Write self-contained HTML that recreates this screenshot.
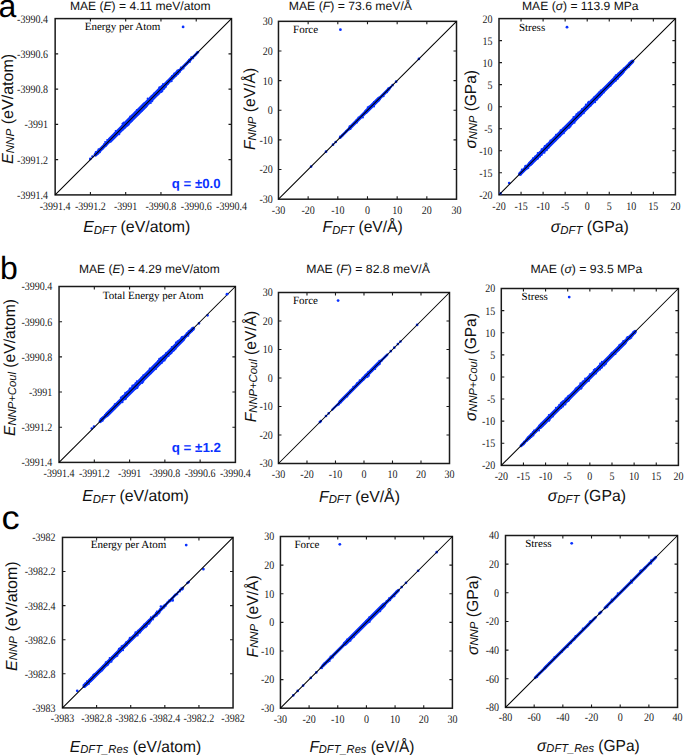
<!DOCTYPE html><html><head><meta charset="utf-8"><style>html,body{margin:0;padding:0;background:#fff;}svg{display:block;text-rendering:geometricPrecision;}</style></head><body>
<svg width="685" height="755" viewBox="0 0 685 755">
<rect width="685" height="755" fill="#fff"/>
<text x="-1.5" y="17.2" font-family='"Liberation Sans", sans-serif' font-size="32" fill="#000">a</text>
<text x="0" y="278.8" font-family='"Liberation Sans", sans-serif' font-size="32" fill="#000">b</text>
<text transform="translate(1.4 528.6) scale(1.1 1)" font-family='"Liberation Sans", sans-serif' font-size="33" fill="#000">c</text>
<text x="69.9" y="10.1" font-family='"Liberation Sans", sans-serif' font-size="12" fill="#111" textLength="140.7" lengthAdjust="spacingAndGlyphs">MAE (<tspan font-style="italic">E</tspan>) = 4.11 meV/atom</text>
<text x="288.8" y="10.1" font-family='"Liberation Sans", sans-serif' font-size="12" fill="#111" textLength="123.2" lengthAdjust="spacingAndGlyphs">MAE (<tspan font-style="italic">F</tspan>) = 73.6 meV/Å</text>
<text x="522" y="10.1" font-family='"Liberation Sans", sans-serif' font-size="12" fill="#111" textLength="116.6" lengthAdjust="spacingAndGlyphs">MAE (<tspan font-style="italic">σ</tspan>) = 113.9 MPa</text>
<text x="79" y="273.2" font-family='"Liberation Sans", sans-serif' font-size="12" fill="#111" textLength="140.8" lengthAdjust="spacingAndGlyphs">MAE (<tspan font-style="italic">E</tspan>) = 4.29 meV/atom</text>
<text x="306.2" y="273.4" font-family='"Liberation Sans", sans-serif' font-size="12" fill="#111" textLength="123.7" lengthAdjust="spacingAndGlyphs">MAE (<tspan font-style="italic">F</tspan>) = 82.8 meV/Å</text>
<text x="530.4" y="273.2" font-family='"Liberation Sans", sans-serif' font-size="12" fill="#111" textLength="111.9" lengthAdjust="spacingAndGlyphs">MAE (<tspan font-style="italic">σ</tspan>) = 93.5 MPa</text>
<path d="M90.42 194.9v-3.0M90.42 18.6v3.0M55.15 159.64h3.0M231.5 159.64h-3.0M125.69 194.9v-3.0M125.69 18.6v3.0M55.15 124.38h3.0M231.5 124.38h-3.0M160.96 194.9v-3.0M160.96 18.6v3.0M55.15 89.12h3.0M231.5 89.12h-3.0M196.23 18.6v3.0M55.15 53.86h3.0M231.5 53.86h-3.0" stroke="#1a1a1a" stroke-width="1.1" fill="none"/>
<rect x="55.15" y="18.6" width="176.35" height="176.3" stroke="#1a1a1a" stroke-width="1.5" fill="none"/>
<g font-family='"Liberation Serif", serif' font-size="11.5" fill="#1a1a1a"><text transform="translate(55.15 209.9) scale(0.87 1)" text-anchor="middle">-3991.4</text><text transform="translate(47.95 198.8) scale(0.87 1)" text-anchor="end">-3991.4</text><text transform="translate(90.42 209.9) scale(0.87 1)" text-anchor="middle">-3991.2</text><text transform="translate(47.95 163.54) scale(0.87 1)" text-anchor="end">-3991.2</text><text transform="translate(125.69 209.9) scale(0.87 1)" text-anchor="middle">-3991</text><text transform="translate(47.95 128.28) scale(0.87 1)" text-anchor="end">-3991</text><text transform="translate(160.96 209.9) scale(0.87 1)" text-anchor="middle">-3990.8</text><text transform="translate(47.95 93.02) scale(0.87 1)" text-anchor="end">-3990.8</text><text transform="translate(196.23 209.9) scale(0.87 1)" text-anchor="middle">-3990.6</text><text transform="translate(47.95 57.76) scale(0.87 1)" text-anchor="end">-3990.6</text><text transform="translate(231.5 209.9) scale(0.87 1)" text-anchor="middle">-3990.4</text><text transform="translate(47.95 22.5) scale(0.87 1)" text-anchor="end">-3990.4</text></g>
<path d="M308.14 199.2v-3.0M308.14 21.34v3.0M278.47 169.56h3.0M456.5 169.56h-3.0M337.81 199.2v-3.0M337.81 21.34v3.0M278.47 139.91h3.0M456.5 139.91h-3.0M367.49 199.2v-3.0M367.49 21.34v3.0M278.47 110.27h3.0M456.5 110.27h-3.0M397.16 199.2v-3.0M397.16 21.34v3.0M278.47 80.63h3.0M456.5 80.63h-3.0M426.83 199.2v-3.0M426.83 21.34v3.0M278.47 50.98h3.0M456.5 50.98h-3.0" stroke="#1a1a1a" stroke-width="1.1" fill="none"/>
<rect x="278.47" y="21.34" width="178.03" height="177.86" stroke="#1a1a1a" stroke-width="1.5" fill="none"/>
<g font-family='"Liberation Serif", serif' font-size="11.5" fill="#1a1a1a"><text transform="translate(278.47 214.2) scale(0.87 1)" text-anchor="middle">-30</text><text transform="translate(272.87 203.1) scale(0.87 1)" text-anchor="end">-30</text><text transform="translate(308.14 214.2) scale(0.87 1)" text-anchor="middle">-20</text><text transform="translate(272.87 173.46) scale(0.87 1)" text-anchor="end">-20</text><text transform="translate(337.81 214.2) scale(0.87 1)" text-anchor="middle">-10</text><text transform="translate(272.87 143.81) scale(0.87 1)" text-anchor="end">-10</text><text transform="translate(367.49 214.2) scale(0.87 1)" text-anchor="middle">0</text><text transform="translate(272.87 114.17) scale(0.87 1)" text-anchor="end">0</text><text transform="translate(397.16 214.2) scale(0.87 1)" text-anchor="middle">10</text><text transform="translate(272.87 84.53) scale(0.87 1)" text-anchor="end">10</text><text transform="translate(426.83 214.2) scale(0.87 1)" text-anchor="middle">20</text><text transform="translate(272.87 54.88) scale(0.87 1)" text-anchor="end">20</text><text transform="translate(456.5 214.2) scale(0.87 1)" text-anchor="middle">30</text><text transform="translate(272.87 25.24) scale(0.87 1)" text-anchor="end">30</text></g>
<path d="M521.05 194.8v-3.0M521.05 18.6v3.0M499 172.78h3.0M675.4 172.78h-3.0M543.1 194.8v-3.0M543.1 18.6v3.0M499 150.75h3.0M675.4 150.75h-3.0M565.15 194.8v-3.0M565.15 18.6v3.0M499 128.73h3.0M675.4 128.73h-3.0M587.2 194.8v-3.0M587.2 18.6v3.0M499 106.7h3.0M675.4 106.7h-3.0M609.25 194.8v-3.0M609.25 18.6v3.0M499 84.67h3.0M675.4 84.67h-3.0M631.3 194.8v-3.0M631.3 18.6v3.0M499 62.65h3.0M675.4 62.65h-3.0M653.35 194.8v-3.0M653.35 18.6v3.0M499 40.62h3.0M675.4 40.62h-3.0" stroke="#1a1a1a" stroke-width="1.1" fill="none"/>
<rect x="499" y="18.6" width="176.4" height="176.2" stroke="#1a1a1a" stroke-width="1.5" fill="none"/>
<g font-family='"Liberation Serif", serif' font-size="11.5" fill="#1a1a1a"><text transform="translate(499 209.7) scale(0.87 1)" text-anchor="middle">-20</text><text transform="translate(492.6 198.7) scale(0.87 1)" text-anchor="end">-20</text><text transform="translate(521.05 209.7) scale(0.87 1)" text-anchor="middle">-15</text><text transform="translate(492.6 176.68) scale(0.87 1)" text-anchor="end">-15</text><text transform="translate(543.1 209.7) scale(0.87 1)" text-anchor="middle">-10</text><text transform="translate(492.6 154.65) scale(0.87 1)" text-anchor="end">-10</text><text transform="translate(565.15 209.7) scale(0.87 1)" text-anchor="middle">-5</text><text transform="translate(492.6 132.63) scale(0.87 1)" text-anchor="end">-5</text><text transform="translate(587.2 209.7) scale(0.87 1)" text-anchor="middle">0</text><text transform="translate(492.6 110.6) scale(0.87 1)" text-anchor="end">0</text><text transform="translate(609.25 209.7) scale(0.87 1)" text-anchor="middle">5</text><text transform="translate(492.6 88.58) scale(0.87 1)" text-anchor="end">5</text><text transform="translate(631.3 209.7) scale(0.87 1)" text-anchor="middle">10</text><text transform="translate(492.6 66.55) scale(0.87 1)" text-anchor="end">10</text><text transform="translate(653.35 209.7) scale(0.87 1)" text-anchor="middle">15</text><text transform="translate(492.6 44.52) scale(0.87 1)" text-anchor="end">15</text><text transform="translate(675.4 209.7) scale(0.87 1)" text-anchor="middle">20</text><text transform="translate(492.6 22.5) scale(0.87 1)" text-anchor="end">20</text></g>
<path d="M94.32 462.4v-3.0M94.32 286.5v3.0M59.05 427.22h3.0M235.4 427.22h-3.0M129.59 462.4v-3.0M129.59 286.5v3.0M59.05 392.04h3.0M235.4 392.04h-3.0M164.86 462.4v-3.0M164.86 286.5v3.0M59.05 356.86h3.0M235.4 356.86h-3.0M200.13 462.4v-3.0M200.13 286.5v3.0M59.05 321.68h3.0M235.4 321.68h-3.0" stroke="#1a1a1a" stroke-width="1.1" fill="none"/>
<rect x="59.05" y="286.5" width="176.35" height="175.9" stroke="#1a1a1a" stroke-width="1.5" fill="none"/>
<g font-family='"Liberation Serif", serif' font-size="11.5" fill="#1a1a1a"><text transform="translate(59.05 477.2) scale(0.87 1)" text-anchor="middle">-3991.4</text><text transform="translate(52.25 466.3) scale(0.87 1)" text-anchor="end">-3991.4</text><text transform="translate(94.32 477.2) scale(0.87 1)" text-anchor="middle">-3991.2</text><text transform="translate(52.25 431.12) scale(0.87 1)" text-anchor="end">-3991.2</text><text transform="translate(129.59 477.2) scale(0.87 1)" text-anchor="middle">-3991</text><text transform="translate(52.25 395.94) scale(0.87 1)" text-anchor="end">-3991</text><text transform="translate(164.86 477.2) scale(0.87 1)" text-anchor="middle">-3990.8</text><text transform="translate(52.25 360.76) scale(0.87 1)" text-anchor="end">-3990.8</text><text transform="translate(200.13 477.2) scale(0.87 1)" text-anchor="middle">-3990.6</text><text transform="translate(52.25 325.58) scale(0.87 1)" text-anchor="end">-3990.6</text><text transform="translate(235.4 477.2) scale(0.87 1)" text-anchor="middle">-3990.4</text><text transform="translate(52.25 290.4) scale(0.87 1)" text-anchor="end">-3990.4</text></g>
<path d="M306.98 463.5v-3.0M306.98 292.5v3.0M278.47 435h3.0M449.5 435h-3.0M335.48 463.5v-3.0M335.48 292.5v3.0M278.47 406.5h3.0M449.5 406.5h-3.0M363.99 463.5v-3.0M363.99 292.5v3.0M278.47 378h3.0M449.5 378h-3.0M392.49 463.5v-3.0M392.49 292.5v3.0M278.47 349.5h3.0M449.5 349.5h-3.0M421 463.5v-3.0M421 292.5v3.0M278.47 321h3.0M449.5 321h-3.0" stroke="#1a1a1a" stroke-width="1.1" fill="none"/>
<rect x="278.47" y="292.5" width="171.03" height="171" stroke="#1a1a1a" stroke-width="1.5" fill="none"/>
<g font-family='"Liberation Serif", serif' font-size="11.5" fill="#1a1a1a"><text transform="translate(278.47 477.9) scale(0.87 1)" text-anchor="middle">-30</text><text transform="translate(272.87 467.4) scale(0.87 1)" text-anchor="end">-30</text><text transform="translate(306.98 477.9) scale(0.87 1)" text-anchor="middle">-20</text><text transform="translate(272.87 438.9) scale(0.87 1)" text-anchor="end">-20</text><text transform="translate(335.48 477.9) scale(0.87 1)" text-anchor="middle">-10</text><text transform="translate(272.87 410.4) scale(0.87 1)" text-anchor="end">-10</text><text transform="translate(363.99 477.9) scale(0.87 1)" text-anchor="middle">0</text><text transform="translate(272.87 381.9) scale(0.87 1)" text-anchor="end">0</text><text transform="translate(392.49 477.9) scale(0.87 1)" text-anchor="middle">10</text><text transform="translate(272.87 353.4) scale(0.87 1)" text-anchor="end">10</text><text transform="translate(421 477.9) scale(0.87 1)" text-anchor="middle">20</text><text transform="translate(272.87 324.9) scale(0.87 1)" text-anchor="end">20</text><text transform="translate(449.5 477.9) scale(0.87 1)" text-anchor="middle">30</text><text transform="translate(272.87 296.4) scale(0.87 1)" text-anchor="end">30</text></g>
<path d="M523.44 465.4v-3.0M523.44 288.5v3.0M501.3 443.29h3.0M678.4 443.29h-3.0M545.58 465.4v-3.0M545.58 288.5v3.0M501.3 421.17h3.0M678.4 421.17h-3.0M567.71 465.4v-3.0M567.71 288.5v3.0M501.3 399.06h3.0M678.4 399.06h-3.0M589.85 465.4v-3.0M589.85 288.5v3.0M501.3 376.95h3.0M678.4 376.95h-3.0M611.99 465.4v-3.0M611.99 288.5v3.0M501.3 354.84h3.0M678.4 354.84h-3.0M634.12 465.4v-3.0M634.12 288.5v3.0M501.3 332.73h3.0M678.4 332.73h-3.0M656.26 465.4v-3.0M656.26 288.5v3.0M501.3 310.61h3.0M678.4 310.61h-3.0" stroke="#1a1a1a" stroke-width="1.1" fill="none"/>
<rect x="501.3" y="288.5" width="177.1" height="176.9" stroke="#1a1a1a" stroke-width="1.5" fill="none"/>
<g font-family='"Liberation Serif", serif' font-size="11.5" fill="#1a1a1a"><text transform="translate(501.3 479.6) scale(0.87 1)" text-anchor="middle">-20</text><text transform="translate(495.3 469.3) scale(0.87 1)" text-anchor="end">-20</text><text transform="translate(523.44 479.6) scale(0.87 1)" text-anchor="middle">-15</text><text transform="translate(495.3 447.19) scale(0.87 1)" text-anchor="end">-15</text><text transform="translate(545.58 479.6) scale(0.87 1)" text-anchor="middle">-10</text><text transform="translate(495.3 425.07) scale(0.87 1)" text-anchor="end">-10</text><text transform="translate(567.71 479.6) scale(0.87 1)" text-anchor="middle">-5</text><text transform="translate(495.3 402.96) scale(0.87 1)" text-anchor="end">-5</text><text transform="translate(589.85 479.6) scale(0.87 1)" text-anchor="middle">0</text><text transform="translate(495.3 380.85) scale(0.87 1)" text-anchor="end">0</text><text transform="translate(611.99 479.6) scale(0.87 1)" text-anchor="middle">5</text><text transform="translate(495.3 358.74) scale(0.87 1)" text-anchor="end">5</text><text transform="translate(634.12 479.6) scale(0.87 1)" text-anchor="middle">10</text><text transform="translate(495.3 336.62) scale(0.87 1)" text-anchor="end">10</text><text transform="translate(656.26 479.6) scale(0.87 1)" text-anchor="middle">15</text><text transform="translate(495.3 314.51) scale(0.87 1)" text-anchor="end">15</text><text transform="translate(678.4 479.6) scale(0.87 1)" text-anchor="middle">20</text><text transform="translate(495.3 292.4) scale(0.87 1)" text-anchor="end">20</text></g>
<path d="M96.61 707.9v-3.0M96.61 537.4v3.0M62.5 673.8h3.0M233.05 673.8h-3.0M130.72 707.9v-3.0M130.72 537.4v3.0M62.5 639.7h3.0M233.05 639.7h-3.0M164.83 707.9v-3.0M164.83 537.4v3.0M62.5 605.6h3.0M233.05 605.6h-3.0M198.94 707.9v-3.0M198.94 537.4v3.0M62.5 571.5h3.0M233.05 571.5h-3.0" stroke="#1a1a1a" stroke-width="1.1" fill="none"/>
<rect x="62.5" y="537.4" width="170.55" height="170.5" stroke="#1a1a1a" stroke-width="1.5" fill="none"/>
<g font-family='"Liberation Serif", serif' font-size="11.5" fill="#1a1a1a"><text transform="translate(62.5 721.9) scale(0.87 1)" text-anchor="middle">-3983</text><text transform="translate(55.5 711.8) scale(0.87 1)" text-anchor="end">-3983</text><text transform="translate(96.61 721.9) scale(0.87 1)" text-anchor="middle">-3982.8</text><text transform="translate(55.5 677.7) scale(0.87 1)" text-anchor="end">-3982.8</text><text transform="translate(130.72 721.9) scale(0.87 1)" text-anchor="middle">-3982.6</text><text transform="translate(55.5 643.6) scale(0.87 1)" text-anchor="end">-3982.6</text><text transform="translate(164.83 721.9) scale(0.87 1)" text-anchor="middle">-3982.4</text><text transform="translate(55.5 609.5) scale(0.87 1)" text-anchor="end">-3982.4</text><text transform="translate(198.94 721.9) scale(0.87 1)" text-anchor="middle">-3982.2</text><text transform="translate(55.5 575.4) scale(0.87 1)" text-anchor="end">-3982.2</text><text transform="translate(233.05 721.9) scale(0.87 1)" text-anchor="middle">-3982</text><text transform="translate(55.5 541.3) scale(0.87 1)" text-anchor="end">-3982</text></g>
<path d="M309.09 708.2v-3.0M309.09 536.5v3.0M280.43 679.58h3.0M452.4 679.58h-3.0M337.75 708.2v-3.0M337.75 536.5v3.0M280.43 650.97h3.0M452.4 650.97h-3.0M366.41 708.2v-3.0M366.41 536.5v3.0M280.43 622.35h3.0M452.4 622.35h-3.0M395.08 708.2v-3.0M395.08 536.5v3.0M280.43 593.73h3.0M452.4 593.73h-3.0M423.74 708.2v-3.0M423.74 536.5v3.0M280.43 565.12h3.0M452.4 565.12h-3.0" stroke="#1a1a1a" stroke-width="1.1" fill="none"/>
<rect x="280.43" y="536.5" width="171.97" height="171.7" stroke="#1a1a1a" stroke-width="1.5" fill="none"/>
<g font-family='"Liberation Serif", serif' font-size="11.5" fill="#1a1a1a"><text transform="translate(280.43 722.6) scale(0.87 1)" text-anchor="middle">-30</text><text transform="translate(274.23 712.1) scale(0.87 1)" text-anchor="end">-30</text><text transform="translate(309.09 722.6) scale(0.87 1)" text-anchor="middle">-20</text><text transform="translate(274.23 683.48) scale(0.87 1)" text-anchor="end">-20</text><text transform="translate(337.75 722.6) scale(0.87 1)" text-anchor="middle">-10</text><text transform="translate(274.23 654.87) scale(0.87 1)" text-anchor="end">-10</text><text transform="translate(366.41 722.6) scale(0.87 1)" text-anchor="middle">0</text><text transform="translate(274.23 626.25) scale(0.87 1)" text-anchor="end">0</text><text transform="translate(395.08 722.6) scale(0.87 1)" text-anchor="middle">10</text><text transform="translate(274.23 597.63) scale(0.87 1)" text-anchor="end">10</text><text transform="translate(423.74 722.6) scale(0.87 1)" text-anchor="middle">20</text><text transform="translate(274.23 569.02) scale(0.87 1)" text-anchor="end">20</text><text transform="translate(452.4 722.6) scale(0.87 1)" text-anchor="middle">30</text><text transform="translate(274.23 540.4) scale(0.87 1)" text-anchor="end">30</text></g>
<path d="M534.17 707.4v-3.0M534.17 535.5v3.0M505.5 678.75h3.0M677.55 678.75h-3.0M562.85 707.4v-3.0M562.85 535.5v3.0M505.5 650.1h3.0M677.55 650.1h-3.0M591.52 707.4v-3.0M591.52 535.5v3.0M505.5 621.45h3.0M677.55 621.45h-3.0M620.2 707.4v-3.0M620.2 535.5v3.0M505.5 592.8h3.0M677.55 592.8h-3.0M648.88 707.4v-3.0M648.88 535.5v3.0M505.5 564.15h3.0M677.55 564.15h-3.0" stroke="#1a1a1a" stroke-width="1.1" fill="none"/>
<rect x="505.5" y="535.5" width="172.05" height="171.9" stroke="#1a1a1a" stroke-width="1.5" fill="none"/>
<g font-family='"Liberation Serif", serif' font-size="11.5" fill="#1a1a1a"><text transform="translate(505.5 721.2) scale(0.87 1)" text-anchor="middle">-80</text><text transform="translate(499.1 711.3) scale(0.87 1)" text-anchor="end">-80</text><text transform="translate(534.17 721.2) scale(0.87 1)" text-anchor="middle">-60</text><text transform="translate(499.1 682.65) scale(0.87 1)" text-anchor="end">-60</text><text transform="translate(562.85 721.2) scale(0.87 1)" text-anchor="middle">-40</text><text transform="translate(499.1 654) scale(0.87 1)" text-anchor="end">-40</text><text transform="translate(591.52 721.2) scale(0.87 1)" text-anchor="middle">-20</text><text transform="translate(499.1 625.35) scale(0.87 1)" text-anchor="end">-20</text><text transform="translate(620.2 721.2) scale(0.87 1)" text-anchor="middle">0</text><text transform="translate(499.1 596.7) scale(0.87 1)" text-anchor="end">0</text><text transform="translate(648.88 721.2) scale(0.87 1)" text-anchor="middle">20</text><text transform="translate(499.1 568.05) scale(0.87 1)" text-anchor="end">20</text><text transform="translate(677.55 721.2) scale(0.87 1)" text-anchor="middle">40</text><text transform="translate(499.1 539.4) scale(0.87 1)" text-anchor="end">40</text></g>
<path d="M95.5 154.56L110 140.07" stroke="#0a32ff" stroke-width="3.92" stroke-linecap="round" fill="none"/>
<path d="M110 140.07L125 125.07" stroke="#0a32ff" stroke-width="5.15" stroke-linecap="round" fill="none"/>
<path d="M125 125.07L145 105.08" stroke="#0a32ff" stroke-width="5.8" stroke-linecap="round" fill="none"/>
<path d="M145 105.08L163 87.08" stroke="#0a32ff" stroke-width="5.41" stroke-linecap="round" fill="none"/>
<path d="M163 87.08L178 72.08" stroke="#0a32ff" stroke-width="4.17" stroke-linecap="round" fill="none"/>
<path d="M178 72.08L190 60.09" stroke="#0a32ff" stroke-width="3" stroke-linecap="round" fill="none"/>
<path d="M190 60.09L198 52.09" stroke="#0a32ff" stroke-width="2.55" stroke-linecap="round" fill="none"/>
<path d="M98.28 153.45h0M105.86 142.78h0M102.55 147.24h0M105.76 145.93h0M95.75 152.09h0M107.42 142.25h0M105.1 142.06h0M102.55 148.69h0M99.92 152.35h0M107.15 140.07h0M95.96 154.29h0M108.75 140.58h0M98.45 151.23h0M95.28 153.5h0M101.84 148.2h0M98.21 150.52h0M98.57 151.29h0M98.49 149.15h0M107.81 142.59h0M103.93 144.37h0M111.01 141.29h0M96.85 152.41h0M106.57 144.71h0M123.74 125.71h0M123.11 128.28h0M114.85 135.81h0M124.6 128.19h0M117.9 132.81h0M109.71 138.74h0M121.63 127.78h0M112.75 137.63h0M121.2 130.18h0M115.41 134.24h0M118.62 133.44h0M117.43 131.87h0M115.67 131.05h0M111.29 140.05h0M125.12 125.7h0M114.76 133.02h0M119.26 134.26h0M121.71 128.66h0M121.86 126.12h0M119.33 133.98h0M118.52 131.25h0M114.2 136.19h0M122.38 123.74h0M122.98 129.54h0M143.69 108.32h0M141.26 108.97h0M135.93 113.55h0M127.61 125.44h0M135.19 112.46h0M135.03 114.92h0M131.52 117.32h0M136.27 114.8h0M137.08 112.66h0M124.47 123.42h0M128.88 121.87h0M143.42 109.06h0M142.22 110.41h0M131.48 121.34h0M136.78 109.93h0M123.38 122.78h0M139.1 108.95h0M127.69 123.38h0M130.15 116.45h0M128.3 121.99h0M127.45 120.79h0M139.05 110.66h0M131.33 118.53h0M125.02 124.14h0M132.16 115.4h0M128.79 124.51h0M134.03 113.7h0M138.39 114.24h0M123.47 122.71h0M128.81 123.02h0M129.03 122.69h0M138.74 111.69h0M150.83 102.96h0M159.42 90.78h0M149.6 101.64h0M152.4 98.26h0M151.29 99.8h0M145.25 103.21h0M163.74 88.97h0M151.9 100.95h0M152.28 101.19h0M158.09 91.39h0M147.63 98.62h0M159.18 87.62h0M161.4 91.98h0M154.04 93.59h0M162.3 91.14h0M157.7 92.44h0M151.22 97.69h0M149.39 102.05h0M151.63 96.12h0M147.54 103.86h0M150.33 99.75h0M152.29 100.65h0M159.49 87.18h0M147.94 100.79h0M163.75 88.3h0M150 97.87h0M158.38 94.17h0M161.23 87.75h0M176.69 74.3h0M171.68 81.22h0M167.24 84.28h0M163.15 84.7h0M175.98 72.73h0M174.64 75.95h0M175.29 74.14h0M167.46 81.34h0M176.27 74.33h0M178.22 73.68h0M165.2 85.22h0M163.02 83.97h0M165.34 87.22h0M175.66 76.1h0M168.47 82.32h0M174.42 75.05h0M170.79 77.75h0M163.44 85.07h0M176.52 73.88h0M176.78 73.11h0M168.06 83.83h0M174.2 73.45h0M171.96 75.93h0M166.01 86.64h0M177.89 71.01h0M189.71 60.09h0M178.64 69.96h0M181.43 69.72h0M180.15 71.77h0M183.53 68.54h0M188.53 60.79h0M180.99 68.99h0M179.54 71.22h0M177.37 70.5h0M189.42 59.92h0M185.06 64.83h0M180.82 67.39h0M189.84 62h0M188.92 59.74h0M180.84 69.76h0M189.84 60.41h0M186.58 64.15h0M181.2 69.07h0M192.01 57.18h0M190.25 59.04h0M197.78 52.14h0M195.46 55.12h0M197.35 52.38h0M192.15 57.33h0M193.15 58.17h0M196.82 52.61h0M192.75 57.49h0M194.8 55.62h0M191.11 57.27h0M191.19 57.38h0" stroke="#0a32ff" stroke-width="2.0" stroke-linecap="round" fill="none"/>
<path d="M90.3 158.9h0M92.5 156.5h0" stroke="#0a32ff" stroke-width="2.7" stroke-linecap="round" fill="none"/>
<path d="M340 137.73L350 127.74" stroke="#0a32ff" stroke-width="2.63" stroke-linecap="round" fill="none"/>
<path d="M350 127.74L366 111.75" stroke="#0a32ff" stroke-width="3.72" stroke-linecap="round" fill="none"/>
<path d="M366 111.75L379 98.77" stroke="#0a32ff" stroke-width="4.08" stroke-linecap="round" fill="none"/>
<path d="M379 98.77L389 88.78" stroke="#0a32ff" stroke-width="3.14" stroke-linecap="round" fill="none"/>
<path d="M389 88.78L391 86.78" stroke="#0a32ff" stroke-width="2.34" stroke-linecap="round" fill="none"/>
<path d="M350.49 129.11h0M339.93 136.53h0M348.83 129.85h0M346.33 130.67h0M346.26 131.87h0M358.4 117.55h0M356.62 120.59h0M362.94 117.55h0M365.32 112.69h0M356.54 120.05h0M349.57 126.16h0M356.98 119.85h0M357.04 122.62h0M373 105.1h0M367.68 107.29h0M369.18 106.48h0M374.04 106.53h0M373.89 102.12h0M378.4 100.94h0M387.13 92.22h0M387.18 91.7h0M383.64 96.33h0M388.03 88.57h0M386.95 91.65h0M389.97 87.9h0" stroke="#0a32ff" stroke-width="2.0" stroke-linecap="round" fill="none"/>
<path d="M311.1 166.6h0M326 151.72h0M333 144.72h0M335.7 142.02h0M342.7 135.03h0M392.6 85.18h0M396.1 81.68h0M418.9 58.9h0" stroke="#0a32ff" stroke-width="2.7" stroke-linecap="round" fill="none"/>
<path d="M520 173.82L530 163.84" stroke="#0a32ff" stroke-width="3.98" stroke-linecap="round" fill="none"/>
<path d="M530 163.84L545 148.85" stroke="#0a32ff" stroke-width="4.76" stroke-linecap="round" fill="none"/>
<path d="M545 148.85L600 93.91" stroke="#0a32ff" stroke-width="5.08" stroke-linecap="round" fill="none"/>
<path d="M600 93.91L622 71.94" stroke="#0a32ff" stroke-width="4.83" stroke-linecap="round" fill="none"/>
<path d="M622 71.94L632.5 61.45" stroke="#0a32ff" stroke-width="3.85" stroke-linecap="round" fill="none"/>
<path d="M522.49 171.56h0M523.97 170.4h0M525.03 166.34h0M520.94 174.5h0M521.91 170.55h0M529.86 163.79h0M528.29 165.4h0M525.4 166.45h0M527.39 168.53h0M525.9 169.26h0M525.46 165.87h0M527.85 166.52h0M521.79 169.6h0M528.57 165.1h0M528.29 167.74h0M528.36 167.91h0M536.9 158.9h0M538.1 158.6h0M541.8 149.28h0M531.14 160.9h0M544.26 149.15h0M538.73 153.78h0M537.23 155.86h0M535.54 158.85h0M540.11 156.43h0M541.67 155.06h0M544.53 152.69h0M538.94 152.65h0M544.5 152.53h0M543.81 150.52h0M539.73 152.17h0M542.73 151.63h0M532.87 158.16h0M544.49 152.72h0M532.27 163.45h0M535.02 156.55h0M535.27 160.3h0M541.53 149.19h0M537.7 153.11h0M540.21 152.5h0M595.16 102.17h0M574.56 122.84h0M560.55 130.36h0M576.33 114.25h0M555.53 137.69h0M577.36 114.1h0M548.61 147.8h0M563.87 133.22h0M593.88 99.16h0M570.39 123.63h0M580.75 113.82h0M576.18 118.55h0M596.76 97.2h0M569.49 125.94h0M557.37 135.1h0M598.85 95.21h0M573.44 117h0M568.12 126.32h0M546.51 148.15h0M578.21 112.57h0M579.38 114.27h0M581.84 111.01h0M584.73 110.86h0M544.69 146.1h0M583.82 113.35h0M558.66 134.9h0M576.96 115.66h0M564.36 128.2h0M565.64 128.91h0M561.09 131.92h0M585.8 104.75h0M577.14 118.41h0M561.08 130.85h0M588.28 103.76h0M555.08 138.33h0M581.98 109.09h0M562.12 130.58h0M590.63 102.84h0M590.88 100.67h0M564.05 130.88h0M593.5 100.06h0M556.05 135.16h0M573.04 118.66h0M590.58 105.73h0M554.32 137.99h0M589.9 105.01h0M588.79 104.01h0M551.41 141h0M587.85 104.43h0M563.76 129.53h0M567.77 125.47h0M594.41 97.05h0M546.8 150.14h0M595.13 102.24h0M570.47 126.57h0M595.02 96.91h0M587.2 109.09h0M581.53 112.5h0M560.34 132.42h0M556 134.84h0M576.62 115.76h0M587.94 102.73h0M595.39 99.9h0M597.23 99.51h0M594.76 99.7h0M546.58 148.98h0M553.75 138.71h0M581.55 112.52h0M569.3 127.67h0M578.11 114.66h0M560.15 136.25h0M572.24 123.63h0M563.29 128.46h0M575.52 120.6h0M555.44 140.46h0M596.79 99.3h0M588.54 101.86h0M580.86 115.6h0M546.95 145.31h0M559.87 134.19h0M568.17 125.52h0M585.94 104.42h0M546.72 144.54h0M550.35 140.5h0M599.87 96.57h0M549.74 144.13h0M561.72 130.85h0M564.84 130.07h0M612.45 80.56h0M603.61 89.12h0M602.92 91.39h0M615.36 77.79h0M600.62 91.02h0M608.57 86.07h0M616.83 76.33h0M618.02 76.7h0M609.06 84h0M611.59 83.69h0M609.91 85.33h0M609.28 82.93h0M612.44 82.79h0M601.31 92.08h0M610.65 85.84h0M620.21 72.94h0M620.67 75.1h0M605.64 88.03h0M603.81 92.31h0M615.84 80.63h0M617.97 77.04h0M616.35 78h0M602.58 91.96h0M598.84 92.53h0M615.57 75.43h0M600.61 90.48h0M618.35 73.55h0M601.73 94.61h0M603.88 92.46h0M615.91 80.21h0M621.2 73.23h0M616.09 74.88h0M616.92 77.09h0M614.46 76.92h0M617.88 78.86h0M622.11 70.76h0M628.77 66.88h0M623.62 68.47h0M624.96 69.65h0M629.66 63.78h0M625.57 67.8h0M625.45 68.04h0M622.88 71.07h0M632.02 61.54h0M629.03 63.28h0M629.89 65.33h0M629.12 64.91h0M627.46 67.25h0M630.62 61.73h0M623.76 71.68h0M631.66 62.37h0" stroke="#0a32ff" stroke-width="2.0" stroke-linecap="round" fill="none"/>
<path d="M509.2 183h0M500.6 193.3h0" stroke="#0a32ff" stroke-width="2.7" stroke-linecap="round" fill="none"/>
<path d="M100.3 421.26L107 414.57" stroke="#0a32ff" stroke-width="3.52" stroke-linecap="round" fill="none"/>
<path d="M107 414.57L126 395.62" stroke="#0a32ff" stroke-width="4.63" stroke-linecap="round" fill="none"/>
<path d="M126 395.62L164 357.72" stroke="#0a32ff" stroke-width="5.41" stroke-linecap="round" fill="none"/>
<path d="M164 357.72L183 338.77" stroke="#0a32ff" stroke-width="4.96" stroke-linecap="round" fill="none"/>
<path d="M183 338.77L193.3 328.49" stroke="#0a32ff" stroke-width="3.72" stroke-linecap="round" fill="none"/>
<path d="M100.97 418.76h0M102.13 417.79h0M100.53 420.59h0M107.24 415.91h0M104.72 415.43h0M103.35 417.12h0M100.56 419.21h0M102.72 420.8h0M106.64 416.5h0M104.88 415.12h0M113.27 409.08h0M122.13 401.93h0M122.22 396.4h0M119.08 403.66h0M115.58 403.95h0M114.69 404.29h0M126.1 398.21h0M116.75 403.54h0M124.53 397.61h0M125.03 399.11h0M116.38 404.66h0M118.15 402.99h0M109.51 410.96h0M120.82 397.55h0M108.22 414.04h0M112.43 409.36h0M115.46 405.14h0M124.81 394.53h0M113.92 405.83h0M118.27 401.83h0M114.51 408.58h0M113.27 408.67h0M122.73 395.98h0M107.43 412.67h0M121.94 400.47h0M111.02 409.58h0M110.26 411.09h0M108.35 414.29h0M125.68 399.25h0M122.55 402.24h0M125.9 394.14h0M163.74 360.04h0M143.26 381.73h0M150.77 373.3h0M135.99 383.34h0M141.51 377.42h0M142.24 382.89h0M136.75 381.22h0M126.46 392.68h0M155.27 365.4h0M135.52 383.1h0M163.02 358.12h0M132.25 386.09h0M126.86 392.28h0M150.4 368.65h0M127.52 394.04h0M137.33 388.05h0M130.76 391.1h0M155.06 365.95h0M163.45 358.1h0M134.86 386.12h0M127.11 393.93h0M136.91 387.66h0M157.57 364.12h0M126.28 393.5h0M134.11 385.34h0M136.18 388.24h0M129.7 388.57h0M161.51 360.69h0M163.28 357.71h0M160.81 362.05h0M156.97 366.56h0M143.25 375.36h0M135.42 389.03h0M161.79 363.11h0M139.38 383.45h0M156.92 365.85h0M157.07 364.84h0M151.58 371.5h0M137.78 387.04h0M160.74 357.78h0M164.64 360.55h0M149.69 368.58h0M158.76 360.15h0M163.43 359.54h0M127.05 392.08h0M150.4 371.81h0M155.97 368.93h0M132.44 385.47h0M159.22 358.83h0M157.86 360.96h0M157.84 365.99h0M159.55 362.54h0M158.27 361.2h0M150.88 369.53h0M160.91 362.85h0M144.02 377.85h0M125.25 392.87h0M148.55 373.05h0M159.27 363.25h0M166.13 354.58h0M178.66 343.25h0M165.47 358.78h0M178.39 340.7h0M173.92 347.02h0M178.35 342.18h0M168.39 353.24h0M181.09 338.14h0M166.62 355.99h0M180.86 340.98h0M173.49 350.74h0M177.35 341.59h0M179.78 340.05h0M170.94 353.19h0M173.07 350.75h0M168.55 355.91h0M166.07 353.1h0M172.84 347.8h0M175.67 348.82h0M175.87 342.62h0M170.08 351.97h0M173.99 349.24h0M171.74 347.08h0M169.91 354.32h0M171.72 351.9h0M183.13 339.43h0M177.22 345.26h0M171.42 353.25h0M174.29 350.29h0M171.12 353.23h0M191.36 330.94h0M186.61 333.28h0M190.63 330.53h0M188.95 331.09h0M182.78 336.84h0M190.62 329.74h0M192.02 329.23h0M188.56 332.48h0M188.41 331.4h0M188.31 335.79h0M185.3 337.37h0M185.82 334.86h0M181.76 337.05h0M193.46 329.69h0M191.94 331.22h0M192.12 328.27h0" stroke="#0a32ff" stroke-width="2.0" stroke-linecap="round" fill="none"/>
<path d="M91.8 428.6h0M94 426.5h0M199 323.3h0M207.6 315.3h0" stroke="#0a32ff" stroke-width="2.7" stroke-linecap="round" fill="none"/>
<path d="M332.2 409.78L340 401.98" stroke="#0a32ff" stroke-width="2.27" stroke-linecap="round" fill="none"/>
<path d="M340 401.98L363 378.98" stroke="#0a32ff" stroke-width="3.5" stroke-linecap="round" fill="none"/>
<path d="M363 378.98L379 362.99" stroke="#0a32ff" stroke-width="3.87" stroke-linecap="round" fill="none"/>
<path d="M379 362.99L387.3 354.69" stroke="#0a32ff" stroke-width="2.49" stroke-linecap="round" fill="none"/>
<path d="M337.45 405.31h0M339.15 404.32h0M338.67 404.71h0M340.6 401.25h0M362.14 380.73h0M359.6 380.14h0M350.19 390.59h0M352.69 389.66h0M339.79 401.17h0M347.32 396.44h0M356.68 383.44h0M357.33 382.65h0M353.25 386.83h0M340.71 402.61h0M365.53 374.82h0M379.58 364.13h0M368.93 375.66h0M372.1 370.83h0M367.54 376.98h0M375.23 369.12h0M376.82 364.21h0M367.86 372.28h0M379.28 360.85h0M381.7 360.69h0M379.44 363.37h0M381.45 359.82h0" stroke="#0a32ff" stroke-width="2.0" stroke-linecap="round" fill="none"/>
<path d="M319.9 422.08h0M320.8 421.18h0M326 415.98h0M328.7 413.28h0M390.8 351.19h0M394.3 347.69h0M397.9 344.09h0M400.5 341.49h0M417.1 324.89h0" stroke="#0a32ff" stroke-width="2.7" stroke-linecap="round" fill="none"/>
<path d="M521 445.72L528 438.73" stroke="#0a32ff" stroke-width="2.88" stroke-linecap="round" fill="none"/>
<path d="M528 438.73L540 426.74" stroke="#0a32ff" stroke-width="3.85" stroke-linecap="round" fill="none"/>
<path d="M540 426.74L600 366.81" stroke="#0a32ff" stroke-width="4.69" stroke-linecap="round" fill="none"/>
<path d="M600 366.81L625 341.84" stroke="#0a32ff" stroke-width="4.56" stroke-linecap="round" fill="none"/>
<path d="M625 341.84L635.1 331.75" stroke="#0a32ff" stroke-width="3.59" stroke-linecap="round" fill="none"/>
<path d="M527.23 440.85h0M523.93 441.86h0M521.29 446h0M524.8 442.94h0M524.13 443.63h0M523.47 444.38h0M525.93 440.44h0M525.13 442.32h0M522.45 444.47h0M526.14 439.6h0M527.01 440.5h0M537.64 428.12h0M529.8 438.3h0M537.5 428.92h0M528.44 436.92h0M535.04 430.54h0M539.69 427.6h0M530.78 436.69h0M533.42 435.5h0M538.96 427.87h0M536.29 431.56h0M539.06 430.47h0M528.03 438.08h0M534.68 430.98h0M533.95 430.55h0M538.64 428.26h0M529.78 437.7h0M530.99 434.23h0M532.85 431.98h0M531.39 437.09h0M580.28 383.29h0M585.08 378.51h0M561.27 408.09h0M576.58 388.93h0M562.29 403.77h0M549.18 420.71h0M542.99 423.28h0M584.44 381.68h0M598 367.09h0M600.08 369.38h0M581.5 387.86h0M567.9 401.01h0M587.82 379.09h0M568.92 399.19h0M563.21 400.89h0M584.01 381.23h0M570.18 398.44h0M548.82 414.92h0M547.69 419.62h0M560.88 404.32h0M568.48 401.07h0M555 411.19h0M593.13 374.42h0M556 410.61h0M567.55 396.9h0M562.02 403.5h0M587.7 377.93h0M581.1 388.78h0M594.97 371h0M575.59 390.01h0M563.86 402.84h0M589.06 380.65h0M555.87 407.74h0M565.53 398.38h0M542.66 425.79h0M547.42 420.71h0M563.13 406.46h0M589.74 374.13h0M552.97 416.61h0M576.55 389.72h0M587.98 380.9h0M569.4 397.17h0M545.58 420.31h0M549.09 418.45h0M575.23 389.22h0M576.36 387.78h0M546.78 420.88h0M569.06 400.31h0M578.41 389.7h0M548.67 420.18h0M545.38 422.11h0M596.05 373.49h0M593.44 373.05h0M582.59 386.12h0M549.62 419.92h0M594.33 372.08h0M586.53 379.91h0M557.26 410.86h0M544.76 423.87h0M597.96 367.4h0M594.98 369.02h0M590.75 374.58h0M597.74 368.6h0M593.75 369.9h0M546.13 422.6h0M578.43 388.59h0M540.94 423.76h0M560.79 403.1h0M600.48 368.13h0M597.66 370.5h0M559.25 404.8h0M582.61 381.62h0M572.71 393.84h0M568.29 395.73h0M544.5 422.37h0M541.91 425h0M548.33 417.05h0M549.28 417.91h0M562.41 402.58h0M553.5 413.67h0M594.36 371.9h0M549.21 416.38h0M554.65 412.57h0M587.41 379.84h0M550.74 414.91h0M562.67 403.71h0M565.45 404.52h0M573.59 394.25h0M583.46 384.29h0M587.89 378.06h0M581.55 388.35h0M550.24 417.3h0M561.67 402.28h0M543.2 425.16h0M547.54 420.54h0M545.59 420.33h0M600.95 366.15h0M618.83 346.34h0M615.45 354.02h0M607.24 359.39h0M619.22 349.84h0M604.75 363.13h0M601.71 362.52h0M623.26 340.94h0M623.74 344.58h0M617.6 350.64h0M615.62 349.9h0M610.14 354.79h0M622.32 346.19h0M618.82 346.28h0M614.04 351.26h0M620.5 347.81h0M625.49 342.57h0M617.95 350.58h0M602.66 364.79h0M600.37 365.55h0M604.42 365.38h0M602.12 367.53h0M623.51 342.95h0M619.46 344.68h0M601.86 361.7h0M600.03 363.44h0M619.47 344.89h0M614.06 351.35h0M603.04 363.24h0M606.12 363.85h0M609.9 357.53h0M614.49 353.14h0M611.28 354.09h0M604.71 364.69h0M604.64 361.83h0M620.44 346.85h0M624.62 344.05h0M611.64 352.79h0M614.74 351.93h0M621.64 345.38h0M632.73 335.55h0M630.6 337.95h0M633.36 332.04h0M635.05 333.34h0M633.29 332.87h0M626.55 338.31h0M629.67 339.02h0M627.38 336.9h0M626.97 337.66h0M631.92 336.19h0M633.51 331.64h0M627.88 337.04h0M634.9 333.36h0M631.36 337.71h0M630.93 337.27h0M629.59 336.58h0" stroke="#0a32ff" stroke-width="2.0" stroke-linecap="round" fill="none"/>
<path d="M84.3 686.11L90 680.41" stroke="#0a32ff" stroke-width="3.79" stroke-linecap="round" fill="none"/>
<path d="M90 680.41L121 649.42" stroke="#0a32ff" stroke-width="4.24" stroke-linecap="round" fill="none"/>
<path d="M121 649.42L150 620.43" stroke="#0a32ff" stroke-width="4.11" stroke-linecap="round" fill="none"/>
<path d="M150 620.43L165 605.43" stroke="#0a32ff" stroke-width="3.2" stroke-linecap="round" fill="none"/>
<path d="M165 605.43L175 595.43" stroke="#0a32ff" stroke-width="2.36" stroke-linecap="round" fill="none"/>
<path d="M175 595.43L183 587.44" stroke="#0a32ff" stroke-width="1.77" stroke-linecap="round" fill="none"/>
<path d="M85.25 683.37h0M86.88 681.27h0M87 682.7h0M84.65 685.79h0M84.35 685.73h0M83.68 684.69h0M87.56 684.53h0M84.31 684.71h0M89.06 683.71h0M107.58 662.22h0M118.86 648.75h0M115.97 653.16h0M93.4 674.87h0M100.47 671.75h0M95.83 675.04h0M109.43 660.23h0M105.69 662.15h0M91.03 677.75h0M110.88 659.11h0M99.98 670.92h0M103.47 665.78h0M115.23 656.39h0M97.78 673.05h0M107.38 665.23h0M111.97 657.16h0M119.2 648.85h0M103.71 668.2h0M94.68 675.67h0M91.68 679.66h0M113.92 656.93h0M116.57 652.71h0M111.84 659.14h0M107.85 662.31h0M117.4 655.73h0M105.18 666.19h0M92.44 679.09h0M111.53 661.82h0M114.82 654.28h0M102.45 668.94h0M90.59 679.6h0M94.14 674.13h0M92.57 679.32h0M93.31 675.7h0M103.19 669.36h0M92.36 677.77h0M108.16 664.51h0M116.51 656.13h0M98.39 671.54h0M102.23 670.39h0M118.61 649.65h0M94.71 674.19h0M97.19 673.13h0M107.56 661.45h0M89.9 680.06h0M101.64 669.16h0M120.14 651.46h0M106.33 664.78h0M109.63 658.12h0M147.82 624.07h0M147.14 624.85h0M132.09 637.75h0M124.41 646.83h0M121.47 646.28h0M126.04 642.35h0M129.55 638.25h0M119.92 648.33h0M123.53 646.06h0M122.9 649.84h0M137.83 630.64h0M127.86 641.65h0M130.46 637.76h0M146.92 626.11h0M134.47 635.86h0M122.27 645.71h0M130.25 638.8h0M144.14 624.49h0M123.07 650.14h0M135.32 633.11h0M135.42 632.34h0M137.66 635.46h0M146.55 624.91h0M128.18 641.45h0M126.67 645.4h0M137.23 634.76h0M129.75 639.05h0M145.83 627.18h0M146.53 625.51h0M145.37 626.33h0M127.63 642.9h0M129.94 637.74h0M121.13 647.92h0M129.09 642.47h0M148.6 621.55h0M149.44 623.52h0M148.35 621.38h0M126.58 642.21h0M125.82 642.83h0M140.21 632.43h0M145.32 625h0M140.76 631.31h0M123.95 647.45h0M148.12 623.78h0M142.69 627.61h0M127.05 645.11h0M155.68 616.14h0M164.38 605.66h0M157.03 615.42h0M160.2 608.89h0M151.05 617.66h0M164.15 607.44h0M152.99 619.03h0M164.99 606.01h0M155.37 615.28h0M150.77 617.26h0M164.84 606.14h0M158.84 613.47h0M157.34 614.75h0M161.83 607.47h0M153.29 616.16h0M153.81 617.02h0M153.7 616.34h0M152.98 619.47h0M155.21 615.02h0M159.61 612.54h0M157.25 615.06h0M157.59 612.97h0M156.81 611.53h0M155.89 613.12h0M165.58 605.94h0M166.68 603.66h0M172.34 598.26h0M168.29 602.2h0M171 600.32h0M166.17 604.48h0M167.1 602.56h0M172.73 597.72h0M171.02 600.22h0M174.05 596.23h0M171.13 599.32h0M170.43 600.62h0M169.58 600.96h0M170.49 601.36h0M172.56 599.01h0M174.09 595.68h0M179.99 591.47h0M181.34 588.33h0M175.9 594.38h0M175.23 594.51h0M175.81 595.07h0M181.7 589.59h0M176.52 594.48h0M179.88 589.75h0M182.55 588.86h0M177.34 594.26h0M178.17 592.23h0M183.25 587.85h0" stroke="#0a32ff" stroke-width="2.0" stroke-linecap="round" fill="none"/>
<path d="M77.2 690.8h0M160.9 606.5h0M169.1 600.9h0M172.7 600.4h0M182.4 589.1h0M187.5 583h0M188.6 582h0M203.4 569.2h0" stroke="#0a32ff" stroke-width="2.7" stroke-linecap="round" fill="none"/>
<path d="M320.7 667.99L323 665.7" stroke="#0a32ff" stroke-width="2.42" stroke-linecap="round" fill="none"/>
<path d="M323 665.7L345 643.73" stroke="#0a32ff" stroke-width="3.21" stroke-linecap="round" fill="none"/>
<path d="M345 643.73L367 621.77" stroke="#0a32ff" stroke-width="4.45" stroke-linecap="round" fill="none"/>
<path d="M367 621.77L384 604.79" stroke="#0a32ff" stroke-width="4.52" stroke-linecap="round" fill="none"/>
<path d="M384 604.79L398.4 590.42" stroke="#0a32ff" stroke-width="3.07" stroke-linecap="round" fill="none"/>
<path d="M321.94 668.19h0M326.17 663.31h0M324.4 663.36h0M344.22 642.99h0M337.03 651.5h0M332.96 655.73h0M327.87 662.12h0M324.47 663.23h0M323.02 664.84h0M332.82 657.6h0M330.53 656.56h0M329.67 661.01h0M346.71 642.67h0M353.77 635.92h0M353.01 636.86h0M356.41 633.26h0M365.11 624.21h0M346.93 639.41h0M365.77 622.91h0M350.51 640.72h0M358.46 631.73h0M363.65 623.65h0M353.96 637.01h0M370.2 620.38h0M369.32 620.77h0M380.27 611.18h0M381.35 607.46h0M369.18 617.23h0M376.02 612.82h0M369.62 621.96h0M376.25 613.78h0M386.54 601h0M383.75 604.2h0M387.66 600.77h0M390.18 600.13h0M396.31 591.45h0M388.96 598.35h0M394.45 596.16h0" stroke="#0a32ff" stroke-width="2.0" stroke-linecap="round" fill="none"/>
<path d="M293.3 695.35h0M297.7 690.96h0M303.1 685.57h0M310.8 677.88h0M316.3 672.39h0M401.7 587.12h0M406 582.83h0M418.1 570.75h0M436.7 552.18h0" stroke="#0a32ff" stroke-width="2.7" stroke-linecap="round" fill="none"/>
<path d="M535.2 677.73L545 667.93" stroke="#0a32ff" stroke-width="2.81" stroke-linecap="round" fill="none"/>
<path d="M545 667.93L588 624.97" stroke="#0a32ff" stroke-width="3.07" stroke-linecap="round" fill="none"/>
<path d="M588 624.97L595.6 617.38" stroke="#0a32ff" stroke-width="2.81" stroke-linecap="round" fill="none"/>
<path d="M599.4 613.58L601.1 611.88" stroke="#0a32ff" stroke-width="2.81" stroke-linecap="round" fill="none"/>
<path d="M604.9 608.09L612 600.99" stroke="#0a32ff" stroke-width="2.81" stroke-linecap="round" fill="none"/>
<path d="M612 600.99L645 568.02" stroke="#0a32ff" stroke-width="3.07" stroke-linecap="round" fill="none"/>
<path d="M645 568.02L655.8 557.23" stroke="#0a32ff" stroke-width="2.81" stroke-linecap="round" fill="none"/>
<path d="M539.5 672.95h0M537.21 677.02h0M545.28 667.66h0M582.75 628.46h0M569.08 644.37h0M546.5 665.92h0M575.15 637.61h0M575.46 636.06h0M554.42 656.89h0M567.66 647.07h0M570.96 643.14h0M562.01 651.97h0M548.93 663.13h0M574.47 639.44h0M590.4 620.97h0M589.45 622.37h0M607.46 606.66h0M607.01 607.37h0M640.08 571.06h0M624.48 588.49h0M612.62 600.06h0M641.1 570.29h0M630.9 580.52h0M631.93 582.74h0M617.67 593.27h0M614.84 598.32h0M611.7 599.55h0M651.17 563.47h0M649.34 563.29h0M651.14 560.37h0" stroke="#0a32ff" stroke-width="2.0" stroke-linecap="round" fill="none"/>
<line x1="55.15" y1="194.9" x2="231.5" y2="18.6" stroke="#000" stroke-width="1.05"/>
<line x1="278.47" y1="199.2" x2="456.5" y2="21.34" stroke="#000" stroke-width="1.05"/>
<line x1="499" y1="194.8" x2="675.4" y2="18.6" stroke="#000" stroke-width="1.05"/>
<line x1="59.05" y1="462.4" x2="235.4" y2="286.5" stroke="#000" stroke-width="1.05"/>
<line x1="278.47" y1="463.5" x2="449.5" y2="292.5" stroke="#000" stroke-width="1.05"/>
<line x1="501.3" y1="465.4" x2="678.4" y2="288.5" stroke="#000" stroke-width="1.05"/>
<line x1="62.5" y1="707.9" x2="233.05" y2="537.4" stroke="#000" stroke-width="1.05"/>
<line x1="280.43" y1="708.2" x2="452.4" y2="536.5" stroke="#000" stroke-width="1.05"/>
<line x1="505.5" y1="707.4" x2="677.55" y2="535.5" stroke="#000" stroke-width="1.05"/>
<text x="84.7" y="30.2" font-family='"Liberation Serif", serif' font-size="11" fill="#000">Energy per Atom</text>
<circle cx="183.1" cy="26.9" r="1.4" fill="#0a32ff"/>
<text x="293.1" y="33.1" font-family='"Liberation Serif", serif' font-size="11" fill="#000">Force</text>
<circle cx="340.4" cy="29.7" r="1.4" fill="#0a32ff"/>
<text x="518.9" y="30.6" font-family='"Liberation Serif", serif' font-size="11" fill="#000">Stress</text>
<circle cx="567" cy="27.2" r="1.4" fill="#0a32ff"/>
<text x="102.8" y="298.7" font-family='"Liberation Serif", serif' font-size="11" fill="#000">Total Energy per Atom</text>
<circle cx="227" cy="294.2" r="1.4" fill="#0a32ff"/>
<text x="292.9" y="304.3" font-family='"Liberation Serif", serif' font-size="11" fill="#000">Force</text>
<circle cx="338.1" cy="300.6" r="1.4" fill="#0a32ff"/>
<text x="521.6" y="300.3" font-family='"Liberation Serif", serif' font-size="11" fill="#000">Stress</text>
<circle cx="569.2" cy="297.1" r="1.4" fill="#0a32ff"/>
<text x="90.8" y="548.3" font-family='"Liberation Serif", serif' font-size="11" fill="#000">Energy per Atom</text>
<circle cx="186.2" cy="545.1" r="1.4" fill="#0a32ff"/>
<text x="294.4" y="547.8" font-family='"Liberation Serif", serif' font-size="11" fill="#000">Force</text>
<circle cx="339.8" cy="544.3" r="1.4" fill="#0a32ff"/>
<text x="525.2" y="547.3" font-family='"Liberation Serif", serif' font-size="11" fill="#000">Stress</text>
<circle cx="571.7" cy="543.3" r="1.4" fill="#0a32ff"/>
<text x="171.8" y="188" font-family='"Liberation Sans", sans-serif' font-size="13.2" font-weight="bold" fill="#0a32ff" textLength="48.7" lengthAdjust="spacingAndGlyphs">q = ±0.0</text>
<text x="171.7" y="452.1" font-family='"Liberation Sans", sans-serif' font-size="13.2" font-weight="bold" fill="#0a32ff" textLength="49.3" lengthAdjust="spacingAndGlyphs">q = ±1.2</text>
<text x="83.2" y="232.4" font-family='"Liberation Sans", sans-serif' font-size="16" fill="#111" textLength="107.2" lengthAdjust="spacingAndGlyphs"><tspan font-style="italic">E</tspan><tspan font-style="italic" font-size="11.52" dy="1.2">DFT</tspan><tspan dy="-1.2"> (eV/atom)</tspan></text>
<text x="322.6" y="232.4" font-family='"Liberation Sans", sans-serif' font-size="16" fill="#111" textLength="80.2" lengthAdjust="spacingAndGlyphs"><tspan font-style="italic">F</tspan><tspan font-style="italic" font-size="11.52" dy="1.2">DFT</tspan><tspan dy="-1.2"> (eV/Å)</tspan></text>
<text x="550.7" y="232.4" font-family='"Liberation Sans", sans-serif' font-size="16" fill="#111" textLength="78.2" lengthAdjust="spacingAndGlyphs"><tspan font-style="italic">σ</tspan><tspan font-style="italic" font-size="11.52" dy="1.2">DFT</tspan><tspan dy="-1.2"> (GPa)</tspan></text>
<text x="82.3" y="501.4" font-family='"Liberation Sans", sans-serif' font-size="16" fill="#111" textLength="106.6" lengthAdjust="spacingAndGlyphs"><tspan font-style="italic">E</tspan><tspan font-style="italic" font-size="11.52" dy="1.2">DFT</tspan><tspan dy="-1.2"> (eV/atom)</tspan></text>
<text x="319" y="502" font-family='"Liberation Sans", sans-serif' font-size="16" fill="#111" textLength="80.9" lengthAdjust="spacingAndGlyphs"><tspan font-style="italic">F</tspan><tspan font-style="italic" font-size="11.52" dy="1.2">DFT</tspan><tspan dy="-1.2"> (eV/Å)</tspan></text>
<text x="547.8" y="501.4" font-family='"Liberation Sans", sans-serif' font-size="16" fill="#111" textLength="78.2" lengthAdjust="spacingAndGlyphs"><tspan font-style="italic">σ</tspan><tspan font-style="italic" font-size="11.52" dy="1.2">DFT</tspan><tspan dy="-1.2"> (GPa)</tspan></text>
<text x="69.8" y="751.7" font-family='"Liberation Sans", sans-serif' font-size="16" fill="#111" textLength="131.4" lengthAdjust="spacingAndGlyphs"><tspan font-style="italic">E</tspan><tspan font-style="italic" font-size="11.52" dy="1.2">DFT_Res</tspan><tspan dy="-1.2"> (eV/atom)</tspan></text>
<text x="309.4" y="751.7" font-family='"Liberation Sans", sans-serif' font-size="16" fill="#111" textLength="105.1" lengthAdjust="spacingAndGlyphs"><tspan font-style="italic">F</tspan><tspan font-style="italic" font-size="11.52" dy="1.2">DFT_Res</tspan><tspan dy="-1.2"> (eV/Å)</tspan></text>
<text x="537" y="751.1" font-family='"Liberation Sans", sans-serif' font-size="16" fill="#111" textLength="102.7" lengthAdjust="spacingAndGlyphs"><tspan font-style="italic">σ</tspan><tspan font-style="italic" font-size="11.52" dy="1.2">DFT_Res</tspan><tspan dy="-1.2"> (GPa)</tspan></text>
<text transform="translate(13.4 108.9) rotate(-90)" x="-55.1" y="0" font-family='"Liberation Sans", sans-serif' font-size="16" fill="#111" textLength="110.2" lengthAdjust="spacingAndGlyphs"><tspan font-style="italic">E</tspan><tspan font-style="italic" font-size="11.52" dy="0.6">NNP</tspan><tspan dy="-0.6"> (eV/atom)</tspan></text>
<text transform="translate(255.3 108.9) rotate(-90)" x="-41.15" y="0" font-family='"Liberation Sans", sans-serif' font-size="16" fill="#111" textLength="82.3" lengthAdjust="spacingAndGlyphs"><tspan font-style="italic">F</tspan><tspan font-style="italic" font-size="11.52" dy="0.6">NNP</tspan><tspan dy="-0.6"> (eV/Å)</tspan></text>
<text transform="translate(476.4 109.3) rotate(-90)" x="-39.2" y="0" font-family='"Liberation Sans", sans-serif' font-size="16" fill="#111" textLength="78.4" lengthAdjust="spacingAndGlyphs"><tspan font-style="italic">σ</tspan><tspan font-style="italic" font-size="11.52" dy="0.6">NNP</tspan><tspan dy="-0.6"> (GPa)</tspan></text>
<text transform="translate(15 367.5) rotate(-90)" x="-68.55" y="0" font-family='"Liberation Sans", sans-serif' font-size="16" fill="#111" textLength="137.1" lengthAdjust="spacingAndGlyphs"><tspan font-style="italic">E</tspan><tspan font-style="italic" font-size="11.52" dy="0.6">NNP+Coul</tspan><tspan dy="-0.6"> (eV/atom)</tspan></text>
<text transform="translate(255.9 366.5) rotate(-90)" x="-55.75" y="0" font-family='"Liberation Sans", sans-serif' font-size="16" fill="#111" textLength="111.5" lengthAdjust="spacingAndGlyphs"><tspan font-style="italic">F</tspan><tspan font-style="italic" font-size="11.52" dy="0.6">NNP+Coul</tspan><tspan dy="-0.6"> (eV/Å)</tspan></text>
<text transform="translate(475.9 367.1) rotate(-90)" x="-53.9" y="0" font-family='"Liberation Sans", sans-serif' font-size="16" fill="#111" textLength="107.8" lengthAdjust="spacingAndGlyphs"><tspan font-style="italic">σ</tspan><tspan font-style="italic" font-size="11.52" dy="0.6">NNP+Coul</tspan><tspan dy="-0.6"> (GPa)</tspan></text>
<text transform="translate(16.5 616.2) rotate(-90)" x="-54.7" y="0" font-family='"Liberation Sans", sans-serif' font-size="16" fill="#111" textLength="109.4" lengthAdjust="spacingAndGlyphs"><tspan font-style="italic">E</tspan><tspan font-style="italic" font-size="11.52" dy="0.6">NNP</tspan><tspan dy="-0.6"> (eV/atom)</tspan></text>
<text transform="translate(257.6 616.4) rotate(-90)" x="-41.05" y="0" font-family='"Liberation Sans", sans-serif' font-size="16" fill="#111" textLength="82.1" lengthAdjust="spacingAndGlyphs"><tspan font-style="italic">F</tspan><tspan font-style="italic" font-size="11.52" dy="0.6">NNP</tspan><tspan dy="-0.6"> (eV/Å)</tspan></text>
<text transform="translate(477.6 615.2) rotate(-90)" x="-39.85" y="0" font-family='"Liberation Sans", sans-serif' font-size="16" fill="#111" textLength="79.7" lengthAdjust="spacingAndGlyphs"><tspan font-style="italic">σ</tspan><tspan font-style="italic" font-size="11.52" dy="0.6">NNP</tspan><tspan dy="-0.6"> (GPa)</tspan></text>
</svg></body></html>
